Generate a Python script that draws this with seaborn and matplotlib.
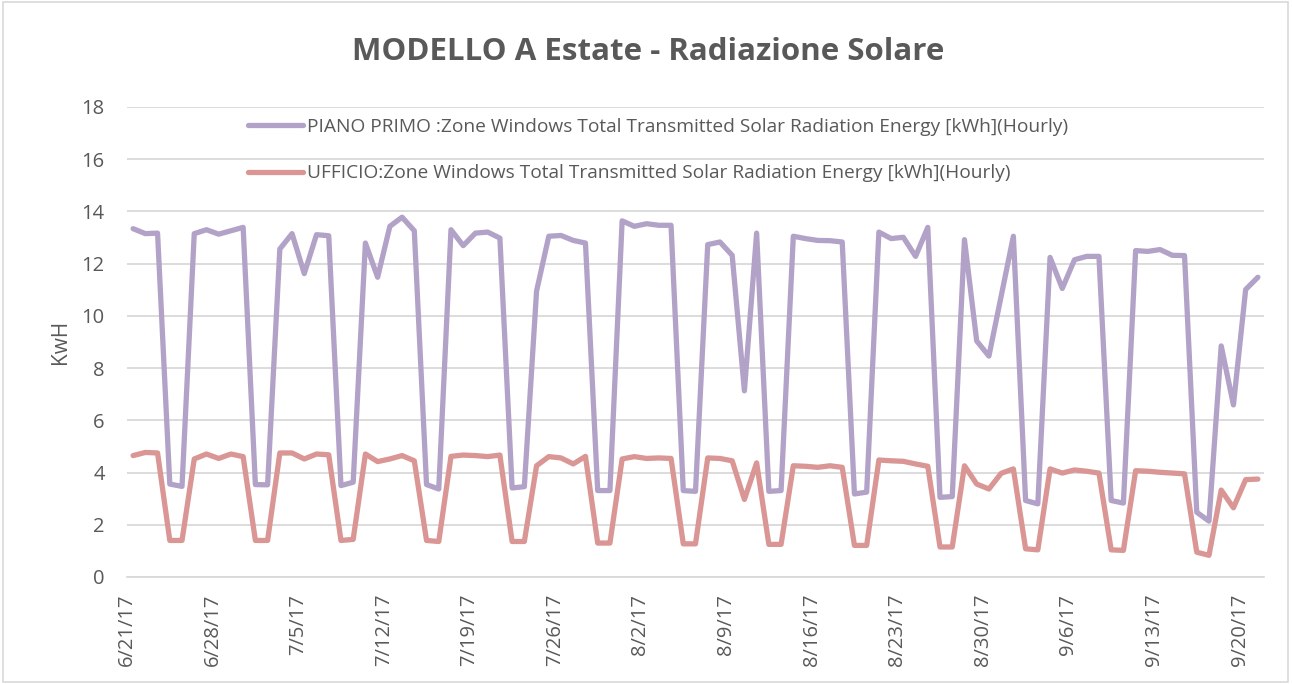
import numpy as np
import pandas as pd
import matplotlib
matplotlib.use("Agg")
import matplotlib.pyplot as plt
import seaborn as sns

start_date = "2017-06-21"
n_days = 93

piano_primo = [
    13.34, 13.15, 13.17, 3.56, 3.47, 13.15, 13.30, 13.13, 13.26, 13.39,
    3.54, 3.53, 12.56, 13.15, 11.62, 13.11, 13.07, 3.50, 3.63, 12.79,
    11.48, 13.43, 13.78, 13.26, 3.54, 3.37, 13.30, 12.69, 13.17, 13.21,
    12.98, 3.41, 3.46, 10.95, 13.05, 13.08, 12.89, 12.79, 3.31, 3.31,
    13.64, 13.43, 13.53, 13.47, 13.47, 3.31, 3.28, 12.73, 12.83, 12.32,
    7.13, 13.17, 3.28, 3.31, 13.05, 12.96, 12.89, 12.88, 12.83, 3.18,
    3.25, 13.21, 12.96, 13.01, 12.28, 13.39, 3.05, 3.08, 12.92, 9.04,
    8.46, 10.75, 13.05, 2.93, 2.80, 12.24, 11.05, 12.15, 12.28, 12.28,
    2.93, 2.83, 12.50, 12.47, 12.54, 12.32, 12.31, 2.48, 2.14, 8.85,
    6.59, 11.01, 11.48,
]

ufficio = [
    4.65, 4.77, 4.75, 1.40, 1.40, 4.52, 4.71, 4.54, 4.71, 4.61,
    1.40, 1.40, 4.75, 4.75, 4.52, 4.71, 4.68, 1.40, 1.44, 4.71,
    4.42, 4.52, 4.65, 4.45, 1.40, 1.36, 4.62, 4.67, 4.65, 4.61,
    4.67, 1.36, 1.36, 4.26, 4.61, 4.56, 4.33, 4.62, 1.30, 1.30,
    4.52, 4.61, 4.54, 4.56, 4.54, 1.27, 1.27, 4.56, 4.54, 4.45,
    2.97, 4.37, 1.25, 1.25, 4.26, 4.24, 4.20, 4.26, 4.20, 1.21,
    1.21, 4.48, 4.45, 4.43, 4.33, 4.24, 1.15, 1.15, 4.26, 3.56,
    3.37, 3.97, 4.14, 1.08, 1.04, 4.14, 3.98, 4.10, 4.05, 3.98,
    1.04, 1.02, 4.07, 4.05, 4.01, 3.98, 3.95, 0.95, 0.83, 3.33,
    2.65, 3.73, 3.75,
]

series_names = [
    "PIANO PRIMO :Zone Windows Total Transmitted Solar Radiation Energy [kWh](Hourly)",
    "UFFICIO:Zone Windows Total Transmitted Solar Radiation Energy [kWh](Hourly)",
]
series_colors = ["#B3A2C7", "#D99694"]

title = "MODELLO A Estate - Radiazione Solare"
y_label = "KwH"
y_ticks = [0, 2, 4, 6, 8, 10, 12, 14, 16, 18]

dates = pd.date_range(start_date, periods=n_days, freq="D")
# Excel date axis: points centred in each day slot
xpos = dates + pd.Timedelta(hours=12)

df = pd.DataFrame({
    "date": np.concatenate([xpos, xpos]),
    "value": piano_primo + ufficio,
    "series": [series_names[0]] * n_days + [series_names[1]] * n_days,
})

sns.set_theme(style="white")
plt.rcParams["font.family"] = ["Open Sans", "DejaVu Sans"]

text_color = "#595959"
grid_color = "#D9D9D9"

fig = plt.figure(figsize=(12.92, 6.84), dpi=100)
ax = fig.add_axes([127 / 1292, 1 - 577 / 684, (1264 - 127) / 1292, (577 - 107) / 684])

sns.lineplot(data=df, x="date", y="value", hue="series",
             palette=dict(zip(series_names, series_colors)),
             linewidth=3.8, ax=ax, legend=True)

for line in ax.get_lines():
    line.set_solid_capstyle("round")
    line.set_solid_joinstyle("round")

ax.set_ylim(0, 18)
ax.set_yticks(y_ticks)
ax.set_xlim(pd.Timestamp(start_date), pd.Timestamp(start_date) + pd.Timedelta(days=n_days))

tick_dates = pd.date_range(start_date, periods=14, freq="7D")
ax.set_xticks(tick_dates)
ax.set_xticklabels([f"{d.month}/{d.day}/{d.strftime('%y')}" for d in tick_dates],
                   rotation=90, color=text_color, fontsize=14.5)
ax.tick_params(axis="x", length=7, width=1.3, color=grid_color, direction="out", pad=5)
ax.tick_params(axis="y", length=0, labelsize=14.5, labelcolor=text_color, pad=16)

ax.grid(axis="y", color=grid_color, linewidth=1.3)
ax.set_axisbelow(True)
for s in ["top", "right", "left"]:
    ax.spines[s].set_visible(False)
ax.spines["bottom"].set_color(grid_color)
ax.spines["bottom"].set_linewidth(1.3)

ax.set_xlabel("")
ax.set_ylabel(y_label, color=text_color, fontsize=15, labelpad=8)

handles, labels = ax.get_legend_handles_labels()
leg = ax.legend(handles, labels, loc="upper left",
                bbox_to_anchor=(240 / 1292, 1 - 110 / 684), bbox_transform=fig.transFigure,
                frameon=False, fontsize=13.8, handlelength=2.9, handletextpad=0.2,
                labelspacing=1.5, borderaxespad=0)
for t in leg.get_texts():
    t.set_color(text_color)
for lh in leg.get_lines():
    lh.set_linewidth(3.8)
    lh.set_solid_capstyle("round")

fig.text(648 / 1292, 1 - 52 / 684, title, ha="center", va="center",
         fontsize=22.5, fontweight="bold", color=text_color)

fig.patches.append(plt.Rectangle((0.002, 0.003), 0.995, 0.994, transform=fig.transFigure,
                                 fill=False, edgecolor="#D9D9D9", linewidth=1.2))

fig.savefig("out.png", dpi=100, facecolor="white")
